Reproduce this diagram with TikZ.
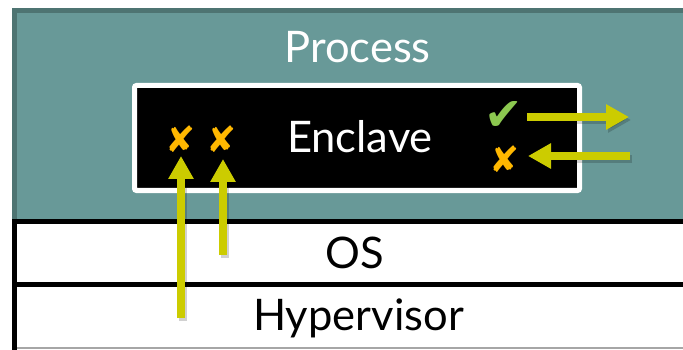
\documentclass[tikz,border=0pt]{standalone}
\usepackage{fontspec}
\setmainfont{Lato}
\newfontfamily\symfont{DejaVu Sans}
\usetikzlibrary{arrows.meta}
\definecolor{procteal}{HTML}{689998}
\definecolor{procedge}{HTML}{4E7472}
\definecolor{flowyellow}{HTML}{CCCC00}
\definecolor{denyorange}{HTML}{FFB800}
\definecolor{allowgreen}{HTML}{8CC850}
\tikzset{
  bigtext/.style={font=\fontsize{43.5}{44}\selectfont},
  mark deny/.style={text=denyorange, font=\symfont\fontsize{36}{36}\selectfont, inner sep=0pt},
  mark allow/.style={text=allowgreen, font=\symfont\fontsize{46}{46}\selectfont, inner sep=0pt},
  flow/.style={draw=flowyellow, line width=7.5pt,
    -{Triangle[length=23pt,width=24pt]}},
  flowshadow/.style={draw=black, opacity=0.18, line width=7.5pt,
    -{Triangle[length=23pt,width=24pt]}},
}
\begin{document}
\begin{tikzpicture}[x=1pt,y=-1pt]
  \useasboundingbox (0,0) rectangle (683,350);
  \clip (0,0) rectangle (683,350);
  % process area
  \draw[fill=procteal, draw=procedge, line width=5pt] (14,10.5) rectangle (700,221);
  \node[bigtext, text=white, anchor=base] (proc) at (357.5,63) {Process};
  % lower layers
  \fill[white] (14,221) rectangle (700,348);
  \draw[line width=1.5pt, draw=gray!70] (14,348) -- (700,348);
  \draw[line width=5pt] (14,221) -- (700,221);
  \draw[line width=5pt] (14,284.5) -- (700,284.5);
  \draw[line width=5pt] (14,218.5) -- (14,351);
  \node[bigtext, anchor=base] (os) at (355,268) {OS};
  \node[bigtext, anchor=base] (hyp) at (358.5,330) {Hypervisor};
  % enclave
  \draw[fill=black, draw=white, line width=5pt, rounded corners=2pt]
    (134.5,85.5) rectangle (579.5,190.5);
  \node[bigtext, text=white, anchor=base] (encl) at (360,153) {Enclave};
  % marks
  \node[mark deny] (x1) at (181,139) {✘};
  \node[mark deny] (x2) at (222,139) {✘};
  \node[mark deny] (x3) at (505,159) {✘};
  \node[mark allow] (ok) at (504,116) {✔};
  % flow arrows
  \coordinate (t1) at (181,318);
  \coordinate (h1) at (181,156);
  \coordinate (t2) at (223,255);
  \coordinate (h2) at (223,159);
  \coordinate (outstart) at (527,117);
  \coordinate (outend) at (629,117);
  \coordinate (instart) at (630,156);
  \coordinate (inend) at (528,156);
  \begin{scope}[transform canvas={shift={(2pt,-3pt)}}]
    \draw[flowshadow] (t1) -- (h1);
    \draw[flowshadow] (t2) -- (h2);
    \draw[flowshadow] (outstart) -- (outend);
    \draw[flowshadow] (instart) -- (inend);
  \end{scope}
  \draw[flow] (t1) -- (h1);
  \draw[flow] (t2) -- (h2);
  \draw[flow] (outstart) -- (outend);
  \draw[flow] (instart) -- (inend);
\end{tikzpicture}
\end{document}
